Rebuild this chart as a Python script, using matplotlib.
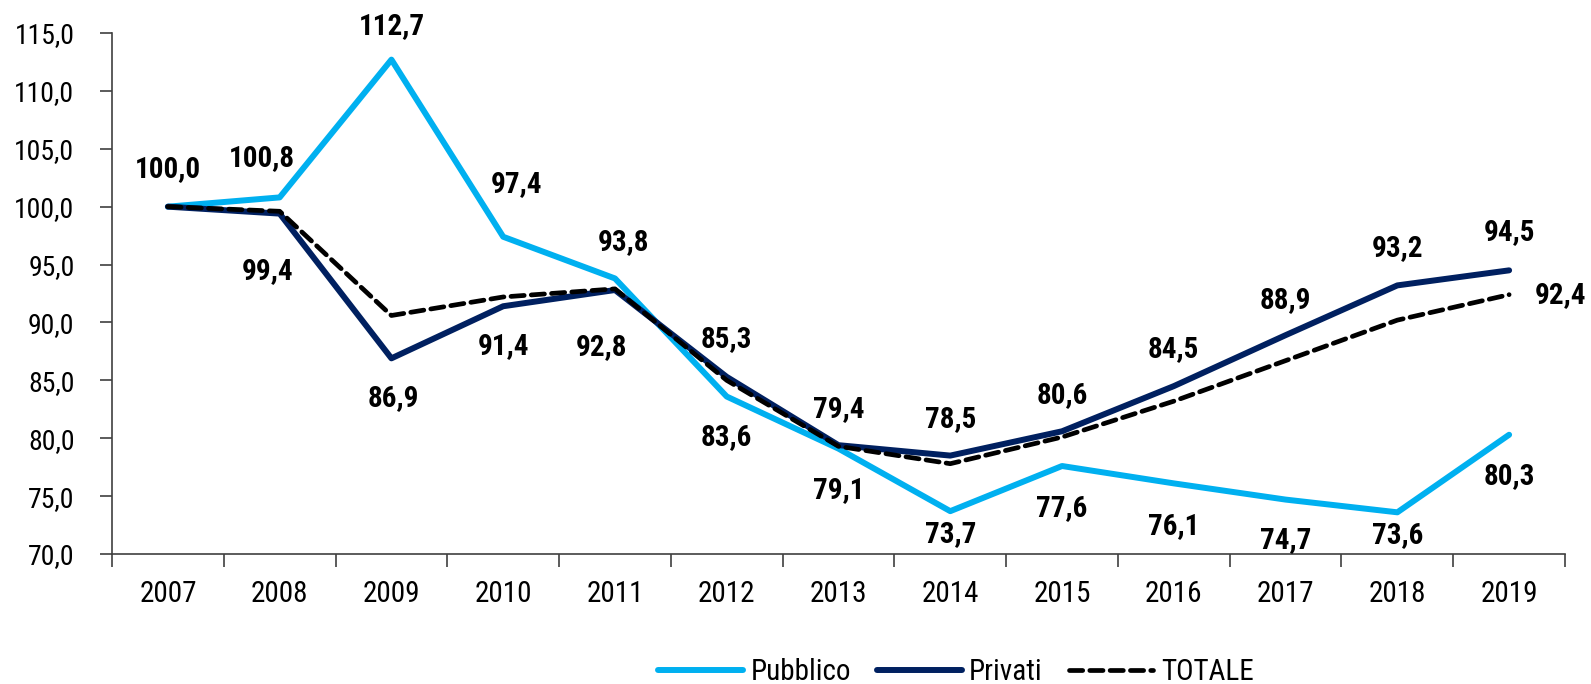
import numpy as np
import matplotlib.pyplot as plt
from matplotlib import font_manager
from matplotlib.ticker import FixedLocator, FuncFormatter

# narrow font close to Arial Narrow, whichever is installed
fonts = {}
for f in font_manager.fontManager.ttflist:
    fonts.setdefault(f.name, set()).add(f.weight)
font = 'DejaVu Sans'
for name in ['Arial Narrow', 'Liberation Sans Narrow', 'Roboto Condensed',
             'IBM Plex Sans Condensed']:
    if name in fonts and 700 in fonts[name] and 400 in fonts[name]:
        font = name
        break
plt.rcParams['font.family'] = [font, 'DejaVu Sans']

years = ['2007', '2008', '2009', '2010', '2011', '2012', '2013',
         '2014', '2015', '2016', '2017', '2018', '2019']
pubblico = [100.0, 100.8, 112.7, 97.4, 93.8, 83.6, 79.1, 73.7, 77.6, 76.1, 74.7, 73.6, 80.3]
privati = [100.0, 99.4, 86.9, 91.4, 92.8, 85.3, 79.4, 78.5, 80.6, 84.5, 88.9, 93.2, 94.5]
totale = [100.0, 99.6, 90.6, 92.2, 92.9, 85.0, 79.3, 77.8, 80.1, 83.2, 86.7, 90.2, 92.4]

# label offsets in pixels (dx, dy), None = no label
off_pub = [(0, 38), (-18, 39), (0, 34), (13, 53), (9, 36), (0, -41), (0, -41),
           (0, -23), (0, -42), (0, -43), (0, -40), (0, -23), (0, -41)]
off_priv = [None, (-12, -57), (2, -40), (0, -40), (-13, -57), (0, 38), (0, 36),
            (0, 37), (0, 36), (0, 37), (0, 35), (0, 37), (0, 38)]
off_tot = [None] * 12 + [(51, 0)]

x = np.arange(len(years))

fig = plt.figure(figsize=(15.91, 6.84), dpi=100)
ax = fig.add_axes([112 / 1591, 1 - 554 / 684, (1565 - 112) / 1591, (554 - 33) / 684])

ax.plot(x, pubblico, color='#00B0F0', lw=4.3, solid_joinstyle='round',
        solid_capstyle='round', label='Pubblico', zorder=3)
ax.plot(x, privati, color='#002060', lw=4.3, solid_joinstyle='round',
        solid_capstyle='round', label='Privati', zorder=4)
ax.plot(x, totale, color='black', lw=3.4, dashes=(2.8, 1.5), dash_capstyle='round',
        label='TOTALE', zorder=5)

def fmt(v):
    return f'{v:.1f}'.replace('.', ',')

for vals, offs in [(pubblico, off_pub), (privati, off_priv), (totale, off_tot)]:
    for i, (v, o) in enumerate(zip(vals, offs)):
        if o is None:
            continue
        ax.annotate(fmt(v), (x[i], v), xytext=o, textcoords='offset pixels',
                    ha='center', va='center', fontsize=21, fontweight='bold',
                    zorder=6)

ax.set_xlim(-0.5, len(years) - 0.5)
ax.set_ylim(70, 115)
ax.yaxis.set_major_locator(FixedLocator(np.arange(70, 116, 5)))
ax.yaxis.set_major_formatter(FuncFormatter(lambda v, p: fmt(v)))

ax.set_xticks(x)
ax.set_xticklabels(years)
ax.xaxis.set_minor_locator(FixedLocator(np.arange(-0.5, len(years), 1)))
ax.tick_params(axis='x', which='major', length=0, pad=19, labelsize=21)
ax.tick_params(axis='x', which='minor', length=9, width=1.2, color='#404040')
ax.tick_params(axis='y', length=9, width=1.2, color='#404040', pad=18, labelsize=20)

for s in ['top', 'right']:
    ax.spines[s].set_visible(False)
for s in ['left', 'bottom']:
    ax.spines[s].set_color('#404040')
    ax.spines[s].set_linewidth(1.2)

fig.legend(loc='center', bbox_to_anchor=(956 / 1591, 1 - 672 / 684), ncol=3,
           frameon=False, fontsize=21, handlelength=2.9, handletextpad=0.25,
           columnspacing=0.9, borderaxespad=0)

fig.savefig('out.png', dpi=100)
